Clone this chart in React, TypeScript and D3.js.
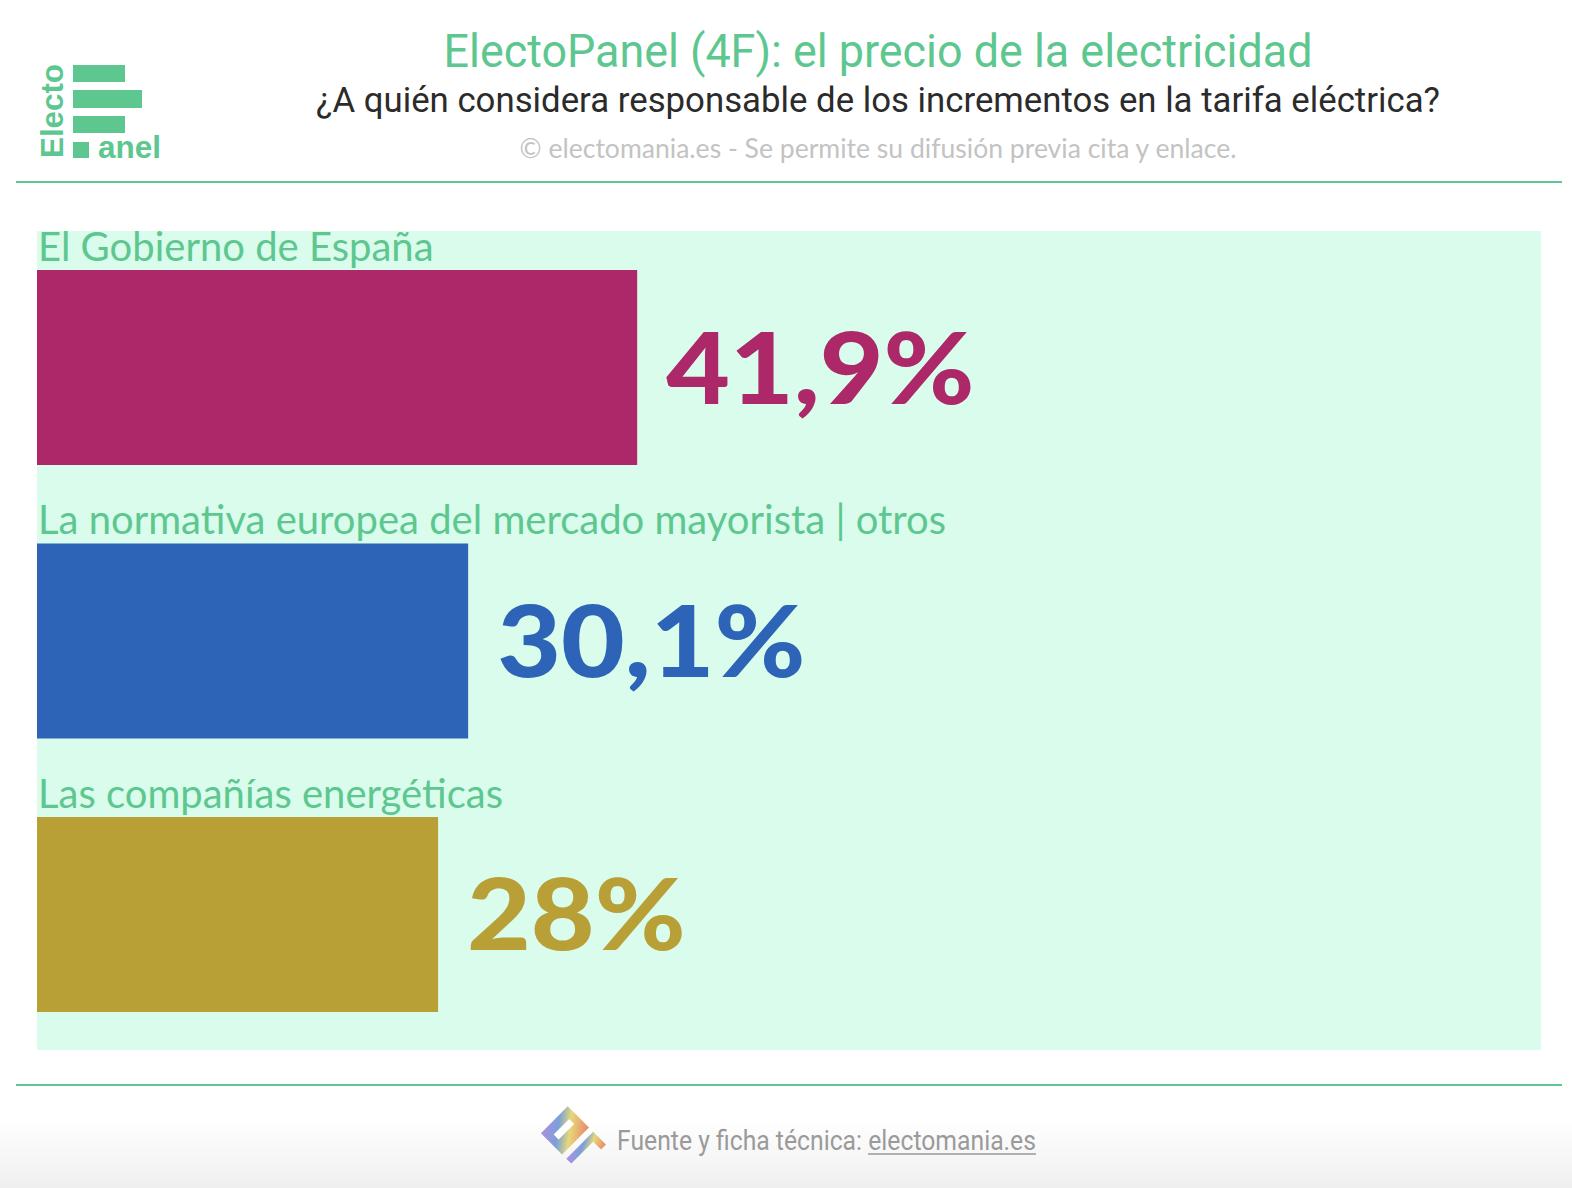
import * as d3 from 'd3';

const categories = [
  'El Gobierno de España',
  'La normativa europea del mercado mayorista | otros',
  'Las compañías energéticas',
];
const values = [41.9, 30.1, 28];
const valueLabels = ['41,9%', '30,1%', '28%'];
const barColors = ['#ad2868', '#2d64b7', '#b8a037'];

const W = 1572;
const H = 1188;
const green = '#5dc78f';

export default function App() {
  const panel = { left: 37, right: 1541, top: 231, bottom: 1050 };

  const x = d3.scaleLinear().domain([0, 105]).range([panel.left, panel.right]);
  const y = d3
    .scaleBand<string>()
    .domain(categories)
    .range([270, 1012])
    .paddingInner(0.287)
    .paddingOuter(0);

  return (
    <svg
      width={W}
      height={H}
      style={{ position: 'absolute', left: 0, top: 0, background: '#fff' }}
    >
      <defs>
        <linearGradient id="footBg" x1="0" y1="0" x2="0" y2="1">
          <stop offset="0" stopColor="#ffffff" />
          <stop offset="1" stopColor="#efefef" />
        </linearGradient>
        <linearGradient id="iconGrad" x1="0" y1="0" x2="1" y2="1">
          <stop offset="0" stopColor="#b08ee0" />
          <stop offset="0.35" stopColor="#7aa0d8" />
          <stop offset="0.6" stopColor="#e6d87a" />
          <stop offset="1" stopColor="#e8866a" />
        </linearGradient>
      </defs>

      {/* logo */}
      <g fill={green}>
        <rect x={73} y={65} width={52} height={17} />
        <rect x={73} y={90} width={69} height={18} />
        <rect x={73} y={116} width={52} height={17} />
        <rect x={73} y={142} width={16} height={16} />
        <text
          x={98}
          y={158}
          fontFamily="'Liberation Sans', Arial, sans-serif"
          fontWeight={700}
          fontSize={31}
          textLength={63}
          lengthAdjust="spacingAndGlyphs"
        >
          anel
        </text>
        <text
          transform="translate(63,158) rotate(-90)"
          fontFamily="'Liberation Sans', Arial, sans-serif"
          fontWeight={700}
          fontSize={31}
          textLength={94}
          lengthAdjust="spacingAndGlyphs"
        >
          Electo
        </text>
      </g>

      {/* header */}
      <text
        x={878}
        y={67}
        textAnchor="middle"
        fill={green}
        fontFamily="Roboto, sans-serif"
        fontSize={46}
        textLength={869}
        lengthAdjust="spacingAndGlyphs"
      >
        ElectoPanel (4F): el precio de la electricidad
      </text>
      <text
        x={878}
        y={112}
        textAnchor="middle"
        fill="#2b2b2b"
        fontFamily="Roboto, sans-serif"
        fontSize={35}
        textLength={1124}
        lengthAdjust="spacingAndGlyphs"
      >
        ¿A quién considera responsable de los incrementos en la tarifa eléctrica?
      </text>
      <text
        x={878}
        y={158}
        textAnchor="middle"
        fill="#c3c3c3"
        fontFamily="Lato, sans-serif"
        fontSize={26}
        textLength={717}
        lengthAdjust="spacingAndGlyphs"
      >
        © electomania.es - Se permite su difusión previa cita y enlace.
      </text>
      <line x1={16} x2={1562} y1={182} y2={182} stroke={green} strokeWidth={2} />

      {/* panel */}
      <rect
        x={panel.left}
        y={panel.top}
        width={panel.right - panel.left}
        height={panel.bottom - panel.top}
        fill="#d9fcec"
      />

      {categories.map((c, i) => {
        const top = y(c) ?? 0;
        const bw = y.bandwidth();
        const vx = x(values[i]) + 29;
        return (
          <g key={c}>
            <text
              x={38}
              y={top - 9}
              fill={green}
              fontFamily="Lato, sans-serif"
              fontSize={40}
            >
              {c}
            </text>
            <rect
              x={x(0)}
              y={top}
              width={x(values[i]) - x(0)}
              height={bw}
              fill={barColors[i]}
            />
            <text
              x={vx}
              y={top + bw / 2 + 36}
              fill={barColors[i]}
              fontFamily="Lato, sans-serif"
              fontWeight={900}
              fontSize={100}
              transform={`translate(${vx},0) scale(1.1,1) translate(${-vx},0)`}
            >
              {valueLabels[i]}
            </text>
          </g>
        );
      })}

      {/* footer */}
      <line x1={16} x2={1562} y1={1085} y2={1085} stroke={green} strokeWidth={2} />
      <rect x={0} y={1120} width={W} height={H - 1120} fill="url(#footBg)" />
      <g transform="translate(572,1136) rotate(-45)">
        <rect x={-20} y={-24} width={38} height={30} fill="url(#iconGrad)" />
        <rect x={-12} y={-14} width={22} height={7} fill="#fff" />
        <path d="M-20,12 L18,12 L18,30 L11,30 L11,19 L-20,19 Z" fill="url(#iconGrad)" />
      </g>
      <text
        x={617}
        y={1150}
        fill="#9a9a9a"
        fontFamily="Roboto, sans-serif"
        fontSize={28}
        textLength={419}
        lengthAdjust="spacingAndGlyphs"
      >
        Fuente y ficha técnica: electomania.es
      </text>
      <line x1={868} x2={1036} y1={1154} y2={1154} stroke="#9a9a9a" strokeWidth={1.5} />
    </svg>
  );
}
